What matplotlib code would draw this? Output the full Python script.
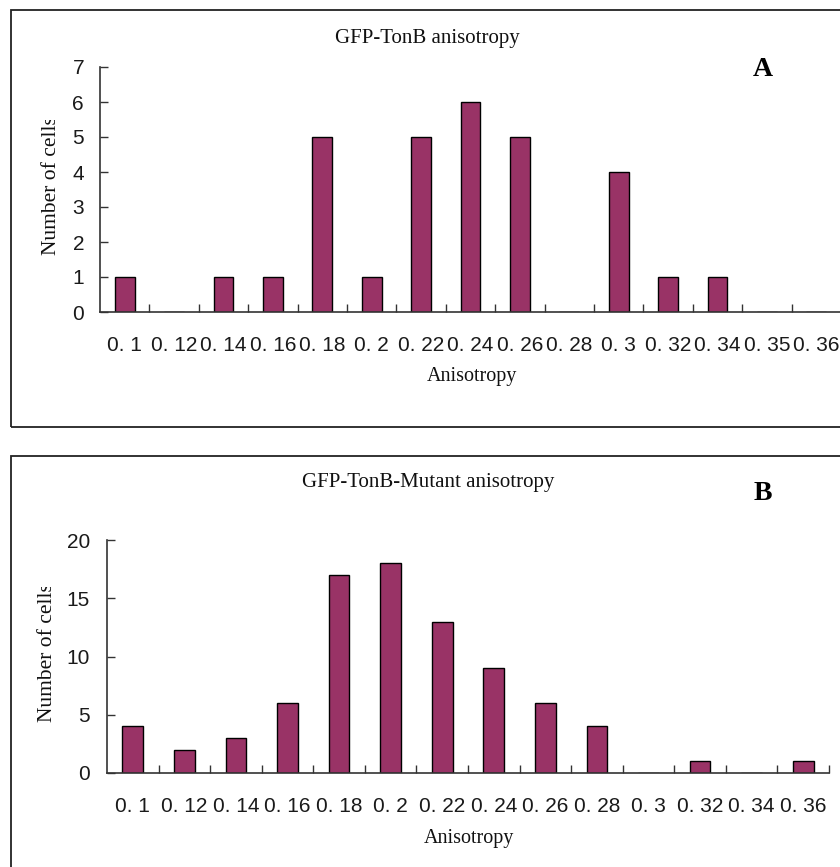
import matplotlib
matplotlib.use("Agg")
import matplotlib.pyplot as plt
from matplotlib.patches import Rectangle
from matplotlib.transforms import Bbox, TransformedBbox

# Panel A: GFP-TonB
labels_a = ["0. 1", "0. 12", "0. 14", "0. 16", "0. 18", "0. 2", "0. 22", "0. 24",
            "0. 26", "0. 28", "0. 3", "0. 32", "0. 34", "0. 35", "0. 36"]
counts_a = [1, 0, 1, 1, 5, 1, 5, 6, 5, 0, 4, 1, 1, 0, 0]

# Panel B: GFP-TonB-Mutant
labels_b = ["0. 1", "0. 12", "0. 14", "0. 16", "0. 18", "0. 2", "0. 22", "0. 24",
            "0. 26", "0. 28", "0. 3", "0. 32", "0. 34", "0. 36"]
counts_b = [4, 2, 3, 6, 17, 18, 13, 9, 6, 4, 0, 1, 0, 1]

W, H = 840, 867
SERIF = "Liberation Serif"
SANS = "Liberation Sans"
BAR = "#993366"
AXC = "#333333"

fig = plt.figure(figsize=(W / 100, H / 100), dpi=100)
fig.patch.set_facecolor("white")


def fx(px):
    return px / W


def fy(py):
    return (H - py) / H


def frame(left, top, bottom):
    fig.patches.append(Rectangle((fx(left), fy(bottom)), 1.2, fy(top) - fy(bottom),
                                 transform=fig.transFigure, fill=False,
                                 edgecolor="#222222", linewidth=1.3))


def panel(rect, labels, counts, ymax, ystep, ypad):
    left, top, right, bottom = rect
    ax = fig.add_axes([fx(left), fy(bottom), fx(right) - fx(left), fy(top) - fy(bottom)])
    n = len(labels)
    xs = list(range(n))
    # bars sit under the spines so the baseline stays grey where counts are zero
    ax.bar(xs, counts, width=0.4, color=BAR, edgecolor="black", linewidth=1.0, zorder=2)
    ax.set_xlim(-0.5, n - 0.5)
    ax.set_ylim(0, ymax)
    ax.set_xticks(xs)
    ax.set_xticklabels(labels, fontfamily=SANS, fontsize=15, color="#1a1a1a")
    ax.set_xticks([i + 0.5 for i in range(n)], minor=True)
    ax.tick_params(axis="x", which="major", length=0, pad=17.5)
    ax.tick_params(axis="x", which="minor", direction="in", length=6, width=1, color=AXC)
    ax.set_yticks(list(range(0, ymax + 1, ystep)))
    ax.tick_params(axis="y", direction="in", length=6, width=1, color=AXC, pad=ypad,
                   labelsize=15, labelcolor="#1a1a1a")
    for t in ax.get_yticklabels():
        t.set_fontfamily(SANS)
    for s in ("top", "right"):
        ax.spines[s].set_visible(False)
    for s in ("left", "bottom"):
        ax.spines[s].set_color(AXC)
        ax.spines[s].set_linewidth(1.2)
        ax.spines[s].set_zorder(3)
    ax.set_facecolor("none")
    return ax


def ylabel(x, y_start, y_clip):
    t = fig.text(fx(x), fy(y_start), "Number of cells", rotation=90, ha="center",
                 va="bottom", fontfamily=SERIF, fontsize=15.5, color="#111111")
    box = TransformedBbox(Bbox([[0, 0], [1, fy(y_clip)]]), fig.transFigure)
    t.set_clip_box(box)
    t.set_clip_on(True)


# Panel A
frame(11, 10, 427)
panel((100, 67, 841, 312), labels_a, counts_a, 7, 1, 11.5)
fig.text(fx(427), fy(38), "GFP-TonB anisotropy", ha="center", va="center",
         fontfamily=SERIF, fontsize=15, color="#111111")
fig.text(fx(763), fy(69), "A", ha="center", va="center", fontfamily=SERIF,
         fontweight="bold", fontsize=20, color="black")
fig.text(fx(472), fy(377), "Anisotropy", ha="center", va="center",
         fontfamily=SERIF, fontsize=14.5, color="#111111")
ylabel(52, 255, 120)

# Panel B
frame(11, 456, 900)
panel((107, 540, 829, 773), labels_b, counts_b, 20, 5, 12.2)
fig.text(fx(428), fy(483), "GFP-TonB-Mutant anisotropy", ha="center", va="center",
         fontfamily=SERIF, fontsize=15, color="#111111")
fig.text(fx(763), fy(494), "B", ha="center", va="center", fontfamily=SERIF,
         fontweight="bold", fontsize=20, color="black")
fig.text(fx(469), fy(838), "Anisotropy", ha="center", va="center",
         fontfamily=SERIF, fontsize=14.5, color="#111111")
ylabel(47, 722, 587)

fig.savefig("out.png", dpi=100, facecolor="white")
